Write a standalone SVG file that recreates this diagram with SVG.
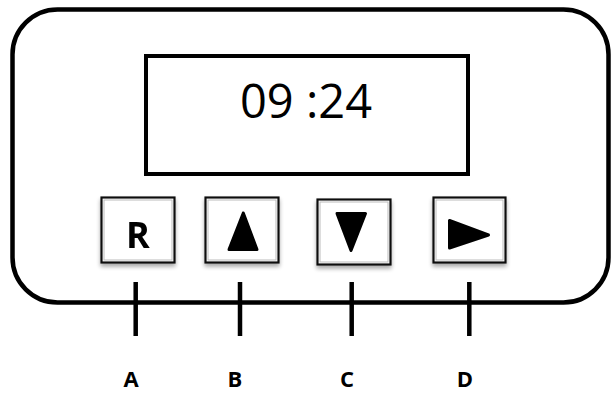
<svg xmlns="http://www.w3.org/2000/svg" width="611" height="394" viewBox="0 0 611 394">
<style>
.frame{fill:#fff;stroke:#000;stroke-width:4.5}
.disp{fill:#fff;stroke:#000;stroke-width:4}
.btn{fill:#fff;stroke:#111;stroke-width:2.2}
.btnin{fill:none;stroke:#bbb;stroke-width:1}
.glyph{fill:#000;stroke:#000;stroke-width:3;stroke-linejoin:round}
.tick{stroke:#000;stroke-width:4.5;fill:none}
.lbl{font-family:"Open Sans","Noto Sans",sans-serif;font-weight:bold;font-size:22px;fill:#000;text-anchor:middle}
</style>
<defs>
<filter id="sh" x="-20%" y="-20%" width="140%" height="150%">
<feGaussianBlur in="SourceAlpha" stdDeviation="2"/>
<feOffset dx="0" dy="3" result="b"/>
<feComponentTransfer><feFuncA type="linear" slope="0.35"/></feComponentTransfer>
<feMerge><feMergeNode/><feMergeNode in="SourceGraphic"/></feMerge>
</filter>
</defs>
<g id="device">
<rect class="frame" x="12.5" y="9.5" width="596" height="293" rx="45" ry="45"/>
</g>
<g id="display">
<rect class="disp" x="146" y="56" width="322" height="118"/>
<text x="306" y="118" font-family="'Open Sans','Noto Sans',sans-serif" font-size="47" text-anchor="middle" fill="#000">09 :24</text>
</g>
<g id="button-R" filter="url(#sh)">
<rect class="btn" x="101.5" y="197.5" width="73" height="65"/>
<rect class="btnin" x="104" y="200" width="68" height="60"/>
<text x="138" y="248" font-family="'Open Sans','Noto Sans',sans-serif" font-weight="bold" font-size="36" text-anchor="middle" fill="#000">R</text>
</g>
<g id="button-up" filter="url(#sh)">
<rect class="btn" x="205.5" y="197.5" width="73" height="65"/>
<rect class="btnin" x="208" y="200" width="68" height="60"/>
<polygon class="glyph" points="243.3,213 229,249.5 257,249.5"/>
</g>
<g id="button-down" filter="url(#sh)">
<rect class="btn" x="317.5" y="199.5" width="73" height="65"/>
<rect class="btnin" x="320" y="202" width="68" height="60"/>
<polygon class="glyph" points="337,213.5 365.5,213.5 351,250.5"/>
</g>
<g id="button-right" filter="url(#sh)">
<rect class="btn" x="433.5" y="197.5" width="72" height="65"/>
<rect class="btnin" x="436" y="200" width="67" height="60"/>
<polygon class="glyph" points="449.5,220.5 449.5,248 488.5,235"/>
</g>
<g id="connectors">
<line class="tick" x1="135.7" y1="282" x2="135.7" y2="336"/>
<line class="tick" x1="240" y1="282" x2="240" y2="336"/>
<line class="tick" x1="351.7" y1="282" x2="351.7" y2="336"/>
<line class="tick" x1="469.3" y1="282" x2="469.3" y2="336"/>
</g>
<g id="labels">
<text class="lbl" x="131" y="387">A</text>
<text class="lbl" x="235" y="387">B</text>
<text class="lbl" x="347" y="387">C</text>
<text class="lbl" x="465" y="387">D</text>
</g>
</svg>
